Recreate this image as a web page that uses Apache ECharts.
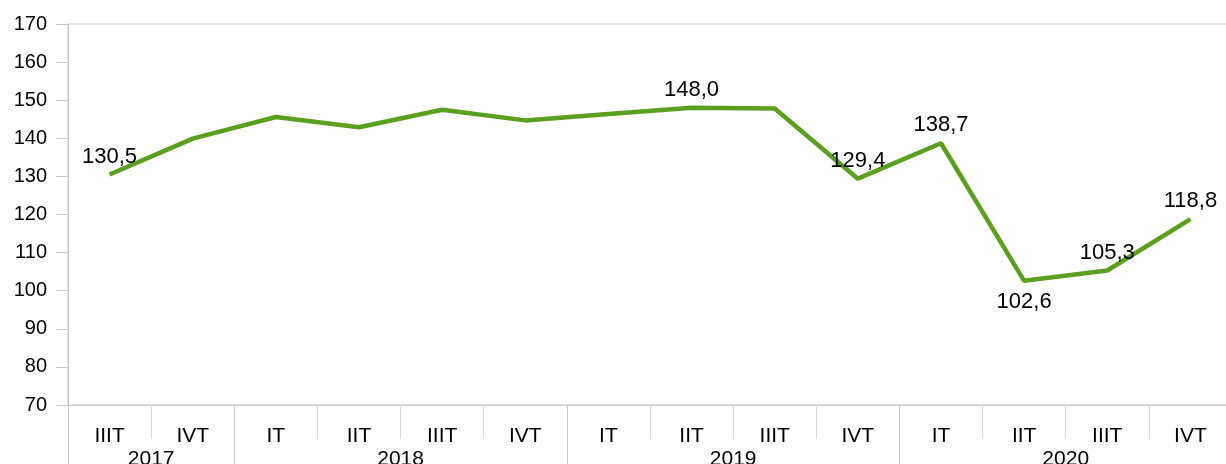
<!DOCTYPE html>
<html>
<head>
<meta charset="utf-8">
<script src="https://cdn.jsdelivr.net/npm/echarts@6/dist/echarts.min.js"></script>
<style>
  html, body { margin: 0; padding: 0; background: #fff; }
  #chart { width: 1226px; height: 464px; }
</style>
</head>
<body>
<div id="chart"></div>
<script>
// 数据
const quarters = ['IIIT', 'IVT', 'IT', 'IIT', 'IIIT', 'IVT', 'IT', 'IIT', 'IIIT', 'IVT', 'IT', 'IIT', 'IIIT', 'IVT'];
const values = [130.5, 139.9, 145.6, 142.9, 147.5, 144.7, 146.4, 148.0, 147.8, 129.4, 138.7, 102.6, 105.3, 118.8];
const years = ['2017', '2018', '2019', '2020'];
// 每年的季度数
const quartersPerYear = [2, 4, 4, 4];
// 哪些点显示数值、标签位置
const labeled = [0, 7, 9, 10, 11, 12, 13];
const labelBelow = [11];

const axisGray = '#c8c8c8';
const lineGreen = '#5A9F1E';

// 年份轴：按半个季度划分，年份放在每段的中点，刻度在年份分界处
const halfSteps = quarters.length * 2;
const yearAxisData = [];
for (let k = 0; k <= halfSteps; k++) yearAxisData.push(String(k));
const yearAt = {};
const yearBounds = [0];
let start = 0;
quartersPerYear.forEach((n, i) => {
  yearAt[start + n] = years[i];           // 半格索引中点
  start += n * 2;
  yearBounds.push(start);
});

const seriesData = values.map((v, i) => {
  const item = { value: v };
  if (labeled.includes(i)) {
    const below = labelBelow.includes(i);
    item.label = {
      show: true,
      position: below ? 'bottom' : 'top',
      distance: below ? 10 : 7
    };
  }
  return item;
});

const chart = echarts.init(document.getElementById('chart'));

const option = {
  animation: false,
  backgroundColor: '#fff',
  textStyle: { fontFamily: 'Liberation Sans, Arial, sans-serif' },
  grid: {
    left: 68,
    right: -6,
    top: 24,
    bottom: 59,
    containLabel: false,
    outerBoundsMode: 'none',
    show: true,
    borderColor: axisGray,
    borderWidth: 1
  },
  xAxis: [
    {
      type: 'category',
      position: 'bottom',
      data: quarters,
      boundaryGap: true,
      axisLine: { show: true, lineStyle: { color: axisGray, width: 1 } },
      axisTick: { show: true, interval: 0, length: 34, lineStyle: { color: '#d6d6d6' } },
      axisLabel: { interval: 0, margin: 21, fontSize: 21, color: '#000' },
      splitLine: { show: false }
    },
    {
      type: 'category',
      position: 'bottom',
      data: yearAxisData,
      boundaryGap: false,
      axisLine: { show: false },
      axisTick: {
        show: true,
        length: 62,
        interval: (idx) => yearBounds.includes(idx),
        lineStyle: { color: axisGray }
      },
      axisLabel: {
        interval: 0,
        margin: 44,
        fontSize: 21,
        color: '#000',
        formatter: (v) => yearAt[v] || ''
      },
      splitLine: { show: false }
    }
  ],
  yAxis: {
    type: 'value',
    min: 70,
    max: 170,
    interval: 10,
    axisLine: { show: true, lineStyle: { color: axisGray, width: 1 } },
    axisTick: { show: true, length: 12, lineStyle: { color: axisGray } },
    axisLabel: { margin: 21, fontSize: 20, color: '#000' },
    splitLine: { show: false }
  },
  series: [
    {
      type: 'line',
      xAxisIndex: 0,
      data: seriesData,
      symbol: 'circle',
      symbolSize: 0,
      showSymbol: true,
      lineStyle: { color: lineGreen, width: 4.5 },
      itemStyle: { color: lineGreen },
      label: {
        show: false,
        fontSize: 22,
        color: '#000',
        formatter: (p) => p.value.toFixed(1).replace('.', ',')
      }
    }
  ]
};

chart.setOption(option);
</script>
</body>
</html>
